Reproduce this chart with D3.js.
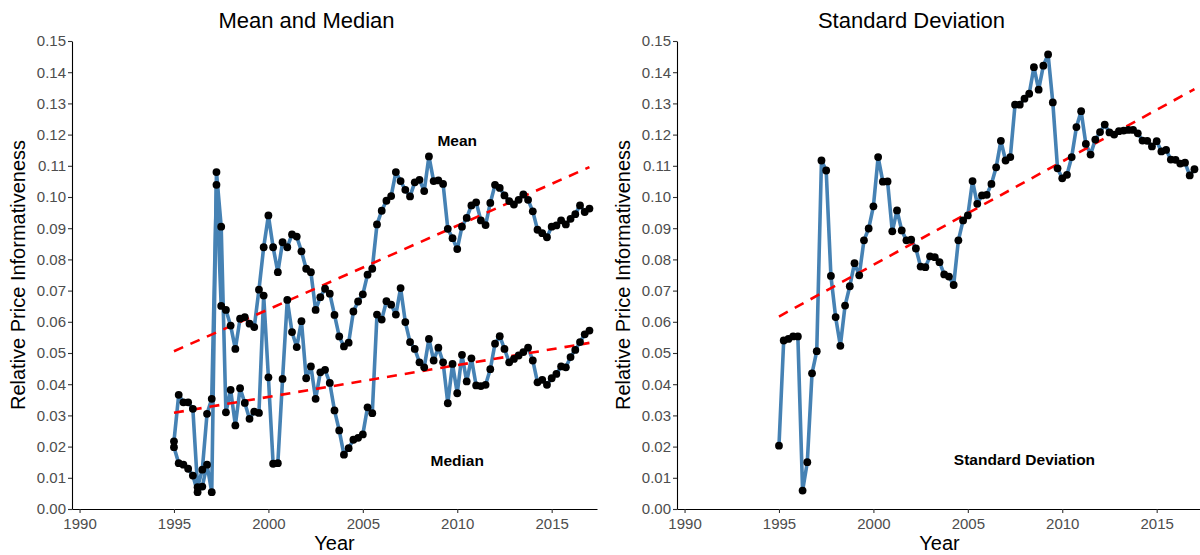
<!DOCTYPE html>
<html>
<head>
<meta charset="utf-8">
<script src="https://cdn.jsdelivr.net/npm/d3@7/dist/d3.min.js"></script>
<style>
  html, body { margin: 0; padding: 0; background: #fff; }
  svg { display: block; font-family: "Liberation Sans", Arial, Helvetica, sans-serif; }
</style>
</head>
<body>
<svg id="chart" width="1200" height="555"></svg>
<script>
// Quarterly observations, 1995Q1 .. 2017Q1
const quarters = d3.range(89).map(i => 1995 + i / 4);

const meanValues = [
  0.0217, 0.0366, 0.0342, 0.0342, 0.0321, 0.0070, 0.0126, 0.0305, 0.0353, 0.1039,
  0.0651, 0.0638, 0.0588, 0.0513, 0.0610, 0.0615, 0.0594, 0.0583, 0.0703, 0.0839,
  0.0941, 0.0839, 0.0759, 0.0855, 0.0839, 0.0880, 0.0873, 0.0826, 0.0770, 0.0759,
  0.0638, 0.0679, 0.0706, 0.0690, 0.0622, 0.0553, 0.0521, 0.0533, 0.0633, 0.0665,
  0.0688, 0.0751, 0.0770, 0.0912, 0.0956, 0.0988, 0.1003, 0.1080, 0.1051, 0.1023,
  0.1002, 0.1047, 0.1055, 0.1019, 0.1130, 0.1051, 0.1053, 0.1042, 0.0898, 0.0868,
  0.0833, 0.0905, 0.0933, 0.0973, 0.0983, 0.0925, 0.0910, 0.0981, 0.1039, 0.1029,
  0.1005, 0.0987, 0.0976, 0.0991, 0.1008, 0.0991, 0.0954, 0.0895, 0.0884, 0.0871,
  0.0905, 0.0909, 0.0925, 0.0912, 0.0930, 0.0945, 0.0973, 0.0952, 0.0963
];

const medianValues = [
  0.0198, 0.0147, 0.0142, 0.0129, 0.0107, 0.0054, 0.0072, 0.0142, 0.0054, 0.1080,
  0.0905, 0.0310, 0.0382, 0.0268, 0.0387, 0.0340, 0.0289, 0.0312, 0.0308, 0.0684,
  0.0422, 0.0145, 0.0147, 0.0417, 0.0670, 0.0567, 0.0519, 0.0602, 0.0419, 0.0457,
  0.0353, 0.0438, 0.0446, 0.0404, 0.0316, 0.0252, 0.0174, 0.0195, 0.0222, 0.0228,
  0.0239, 0.0326, 0.0307, 0.0623, 0.0607, 0.0666, 0.0655, 0.0623, 0.0708, 0.0599,
  0.0535, 0.0513, 0.0470, 0.0454, 0.0545, 0.0476, 0.0517, 0.0470, 0.0339, 0.0465,
  0.0371, 0.0494, 0.0409, 0.0483, 0.0396, 0.0394, 0.0398, 0.0448, 0.0530, 0.0554,
  0.0513, 0.0470, 0.0481, 0.0492, 0.0503, 0.0517, 0.0476, 0.0406, 0.0414, 0.0398,
  0.0419, 0.0433, 0.0457, 0.0454, 0.0487, 0.0510, 0.0535, 0.0560, 0.0572
];

const sdValues = [
  0.0203, 0.0540, 0.0545, 0.0553, 0.0553, 0.0059, 0.0150, 0.0435, 0.0506, 0.1117,
  0.1085, 0.0747, 0.0615, 0.0523, 0.0652, 0.0714, 0.0788, 0.0749, 0.0861, 0.0899,
  0.0970, 0.1128, 0.1049, 0.1050, 0.0890, 0.0957, 0.0893, 0.0861, 0.0863, 0.0835,
  0.0777, 0.0775, 0.0810, 0.0807, 0.0791, 0.0752, 0.0745, 0.0718, 0.0861, 0.0925,
  0.0941, 0.1051, 0.0978, 0.1005, 0.1007, 0.1042, 0.1095, 0.1180, 0.1117, 0.1128,
  0.1296, 0.1296, 0.1315, 0.1331, 0.1416, 0.1344, 0.1421, 0.1457, 0.1303, 0.1092,
  0.1060, 0.1071, 0.1128, 0.1224, 0.1275, 0.1170, 0.1136, 0.1184, 0.1208, 0.1232,
  0.1207, 0.1200, 0.1211, 0.1213, 0.1215, 0.1215, 0.1204, 0.1181, 0.1180, 0.1162,
  0.1179, 0.1146, 0.1151, 0.1120, 0.1119, 0.1107, 0.1110, 0.1069, 0.1089
];

const xTicks = [1990, 1995, 2000, 2005, 2010, 2015];
const yTicks = d3.range(0, 16).map(i => i / 100);

const panelTitles = ["Mean and Median", "Standard Deviation"];
const seriesLabels = [
  { panel: 0, text: "Mean", year: 2010, value: 0.1180 },
  { panel: 0, text: "Median", year: 2010, value: 0.0154 },
  { panel: 1, text: "Standard Deviation", year: 2008, value: 0.0160 }
];
const xTitle = "Year";
const yTitle = "Relative Price Informativeness";

// ---- layout ----
const svg = d3.select("#chart");
const plotTop = 41, plotBottom = 509;
const panels = [
  { left: 72, right: 597, series: [meanValues, medianValues] },
  { left: 677, right: 1202, series: [sdValues] }
];

const lineColor = "steelblue";
const trendColor = "#FF0000";

// ordinary least squares fit of value on year
function linearFit(xs, ys) {
  const mx = d3.mean(xs), my = d3.mean(ys);
  let sxy = 0, sxx = 0;
  xs.forEach((x, i) => { sxy += (x - mx) * (ys[i] - my); sxx += (x - mx) * (x - mx); });
  const b = sxy / sxx;
  return x => my + b * (x - mx);
}

panels.forEach((p, pi) => {
  const g = svg.append("g");
  const x = d3.scaleLinear().domain([1989.6, 2017.4]).range([p.left, p.right]);
  const y = d3.scaleLinear().domain([0, 0.15]).range([plotBottom, plotTop]);

  // axes
  const xAxis = g.append("g")
    .attr("transform", `translate(0,${plotBottom})`)
    .call(d3.axisBottom(x).tickValues(xTicks).tickFormat(d3.format("d")).tickSize(4).tickSizeOuter(0).tickPadding(2));
  const yAxis = g.append("g")
    .attr("transform", `translate(${p.left},0)`)
    .call(d3.axisLeft(y).tickValues(yTicks).tickFormat(d3.format(".2f")).tickSize(4).tickSizeOuter(0).tickPadding(2));
  [xAxis, yAxis].forEach(a => {
    a.select(".domain").attr("stroke", "#000").attr("stroke-width", 1.1);
    a.selectAll(".tick line").attr("stroke", "#333").attr("stroke-width", 1.1);
    a.selectAll(".tick text").attr("fill", "#4D4D4D").style("font-size", "15px")
      .style("font-family", "'Liberation Sans', Arial, sans-serif");
  });
  xAxis.selectAll(".tick text").attr("dy", "0.9em");

  const line = d3.line().x((d, i) => x(quarters[i])).y(d => y(d));

  // series lines
  p.series.forEach(vals => {
    g.append("path").datum(vals)
      .attr("d", line)
      .attr("fill", "none")
      .attr("stroke", lineColor)
      .attr("stroke-width", 3.6)
      .attr("stroke-linejoin", "round");
  });

  // linear trend of each series
  p.series.forEach(vals => {
    const f = linearFit(quarters, vals);
    const ends = [quarters[0], quarters[quarters.length - 1]];
    g.append("line")
      .attr("x1", x(ends[0])).attr("y1", y(f(ends[0])))
      .attr("x2", x(ends[1])).attr("y2", y(f(ends[1])))
      .attr("stroke", trendColor)
      .attr("stroke-width", 2.6)
      .attr("stroke-dasharray", "10,8");
  });

  // observation points
  p.series.forEach(vals => {
    g.append("g").selectAll("circle").data(vals).join("circle")
      .attr("cx", (d, i) => x(quarters[i]))
      .attr("cy", d => y(d))
      .attr("r", 3.9)
      .attr("fill", "#000");
  });

  // series labels
  seriesLabels.filter(l => l.panel === pi).forEach(l => {
    g.append("text")
      .attr("x", x(l.year)).attr("y", y(l.value))
      .attr("text-anchor", "middle")
      .attr("dominant-baseline", "central")
      .style("font-size", "15.5px")
      .style("font-weight", "bold")
      .attr("fill", "#000")
      .text(l.text);
  });

  // titles
  const cx = (p.left + Math.min(p.right, 1200)) / 2;
  g.append("text")
    .attr("x", (p.left + p.right) / 2 - 28).attr("y", 28)
    .attr("text-anchor", "middle")
    .style("font-size", "22px")
    .attr("fill", "#000")
    .text(panelTitles[pi]);
  g.append("text")
    .attr("x", (p.left + p.right) / 2).attr("y", 550)
    .attr("text-anchor", "middle")
    .style("font-size", "20px")
    .attr("fill", "#000")
    .text(xTitle);
  g.append("text")
    .attr("transform", `translate(${p.left - 47},${(plotTop + plotBottom) / 2}) rotate(-90)`)
    .attr("text-anchor", "middle")
    .style("font-size", "20px")
    .attr("fill", "#000")
    .text(yTitle);
});
</script>
</body>
</html>
